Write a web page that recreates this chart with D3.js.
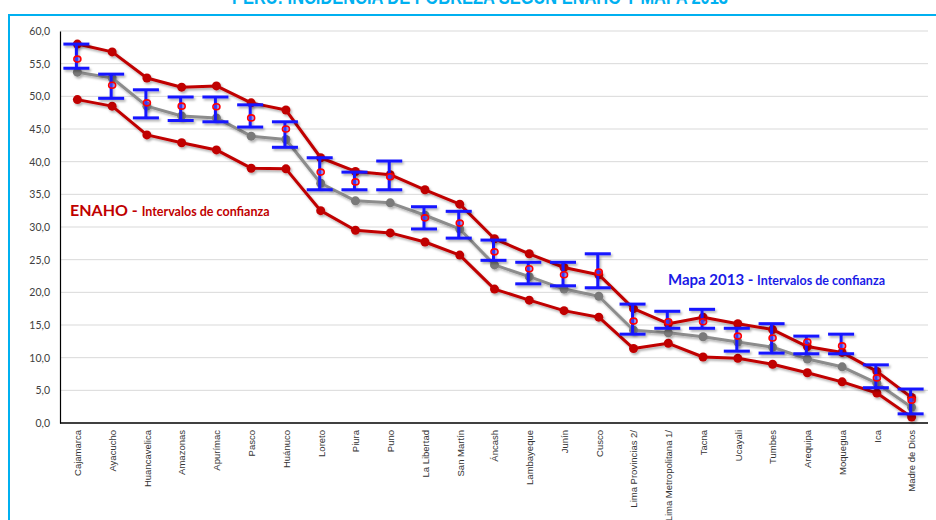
<!DOCTYPE html>
<html><head><meta charset="utf-8">
<script src="https://cdn.jsdelivr.net/npm/d3@7/dist/d3.min.js"></script>
<style>body{margin:0;background:#fff;} svg{display:block;}</style>
</head><body>
<svg id="chart" width="936" height="520"></svg>
<script>
const categories = ["Cajamarca","Ayacucho","Huancavelica","Amazonas","Apurímac","Pasco","Huánuco","Loreto","Piura","Puno","La Libertad","San Martín","Áncash","Lambayeque","Junín","Cusco","Lima Provincias 2/","Lima Metropolitana 1/","Tacna","Ucayali","Tumbes","Arequipa","Moquegua","Ica","Madre de Dios"];
const enahoUpper = [58.0,56.8,52.8,51.4,51.6,49.0,47.9,40.6,38.5,38.0,35.7,33.5,28.2,25.9,23.8,22.7,17.5,15.2,16.2,15.2,14.3,11.7,10.8,7.9,3.9];
const enahoEstimate = [53.7,52.8,48.5,47.0,46.7,43.9,43.4,36.7,34.0,33.7,31.8,29.7,24.2,22.4,20.5,19.4,14.2,13.8,13.2,12.4,11.6,9.8,8.6,6.1,2.4];
const enahoLower = [49.5,48.5,44.1,42.9,41.8,39.0,38.9,32.5,29.5,29.1,27.7,25.7,20.5,18.8,17.2,16.2,11.4,12.2,10.1,9.9,9.0,7.7,6.3,4.6,0.9];
const mapaUpper = [58.0,53.4,51.0,49.9,49.9,48.7,46.1,40.6,38.4,40.1,33.1,32.4,28.0,24.6,24.6,25.9,18.2,17.1,17.4,14.5,15.2,13.3,13.6,8.9,5.2];
const mapaEstimate = [55.7,51.7,49.0,48.5,48.4,46.7,45.0,38.4,36.9,37.7,31.4,30.6,26.2,23.6,22.7,23.1,15.6,15.5,15.5,13.3,13.0,12.4,11.8,6.9,3.5];
const mapaLower = [54.3,49.7,46.7,46.3,46.1,45.3,42.2,35.7,35.7,35.7,29.7,28.3,24.9,21.3,21.0,20.7,13.6,14.5,14.5,11.0,10.7,10.6,10.6,5.4,1.4];
const yTicks = [0,5,10,15,20,25,30,35,40,45,50,55,60];

const svg = d3.select("#chart");
const defs = svg.append("defs");
const f = defs.append("filter").attr("id","sh").attr("x","-20%").attr("y","-20%").attr("width","140%").attr("height","140%");
f.append("feDropShadow").attr("dx",1.5).attr("dy",2).attr("stdDeviation",1.2).attr("flood-color","#000").attr("flood-opacity",0.3);

// frame
svg.append("rect").attr("x",9).attr("y",15).attr("width",940).attr("height",520)
  .attr("fill","none").attr("stroke","#00b0f0").attr("stroke-width",2);
// title (cut off)
svg.append("text").attr("x",480).attr("y",4).attr("text-anchor","middle")
  .attr("font-family","Liberation Sans, Arial").attr("font-weight","bold").attr("font-size",20)
  .attr("fill","#00b0f0").attr("textLength",496).attr("lengthAdjust","spacingAndGlyphs")
  .text("PERÚ: INCIDENCIA DE POBREZA SEGÚN ENAHO Y MAPA 2013");

const x = d3.scalePoint().domain(categories).range([60,929]).padding(0.5);
const y = d3.scaleLinear().domain([0,60]).range([423,31]);

// gridlines
svg.append("g").selectAll("line").data(yTicks.filter(d=>d>0)).join("line")
  .attr("x1",60).attr("x2",928).attr("y1",d=>y(d)).attr("y2",d=>y(d))
  .attr("stroke","#d9d9d9").attr("stroke-width",1);

// y axis
const fmt = d => d3.format(".1f")(d).replace(".",",");
const yAxis = svg.append("g").attr("transform","translate(60,0)")
  .call(d3.axisLeft(y).tickValues(yTicks).tickFormat(fmt).tickSize(0).tickPadding(10));
yAxis.select(".domain").attr("stroke","#000").attr("stroke-width",1.2);
yAxis.selectAll("text").attr("font-family","Lato, Open Sans, sans-serif").attr("font-size",10.5).attr("fill","#404040");

// x axis
const xAxis = svg.append("g").attr("transform","translate(0,423)")
  .call(d3.axisBottom(x).tickSize(0).tickPadding(0));
xAxis.select(".domain").attr("stroke","#000").attr("stroke-width",1.5).attr("d","M60,0H928");
xAxis.selectAll("text").attr("font-family","Liberation Sans, Arial").attr("font-size",9.5).attr("fill","#333")
  .attr("text-anchor","end").attr("dy","0.35em").attr("transform","translate(0,7) rotate(-90)").attr("dx",0).attr("y",0).attr("x",0);

function series(vals, color, markerColor) {
  const g = svg.append("g").attr("filter","url(#sh)");
  const line = d3.line().x((d,i)=>x(categories[i])).y(d=>y(d));
  g.append("path").datum(vals).attr("d",line).attr("fill","none").attr("stroke",color).attr("stroke-width",3).attr("stroke-linejoin","round");
  g.selectAll("circle").data(vals).join("circle").attr("cx",(d,i)=>x(categories[i])).attr("cy",d=>y(d)).attr("r",4.5).attr("fill",markerColor);
}
series(enahoUpper,"#c00000","#c00000");
series(enahoLower,"#c00000","#c00000");
series(enahoEstimate,"#8c8c8c","#7a7a7a");

// Mapa error bars
const eb = svg.append("g").attr("filter","url(#sh)").attr("stroke","#1414ff").attr("stroke-width",3);
categories.forEach((c,i)=>{
  const cx = x(c)-1;
  eb.append("line").attr("x1",cx).attr("x2",cx).attr("y1",y(mapaUpper[i])).attr("y2",y(mapaLower[i]));
  eb.append("line").attr("x1",cx-13).attr("x2",cx+13).attr("y1",y(mapaUpper[i])).attr("y2",y(mapaUpper[i]));
  eb.append("line").attr("x1",cx-13).attr("x2",cx+13).attr("y1",y(mapaLower[i])).attr("y2",y(mapaLower[i]));
});
svg.append("g").selectAll("ellipse").data(mapaEstimate).join("ellipse")
  .attr("cx",(d,i)=>x(categories[i])).attr("cy",d=>y(d)).attr("rx",3.5).attr("ry",3)
  .attr("fill","#5a5aff").attr("fill-opacity",0.5).attr("stroke","#ff0000").attr("stroke-width",1.6);

// annotations
const t1 = svg.append("text").attr("x",70).attr("y",216).attr("font-family","Lato, Open Sans, sans-serif").attr("font-weight","bold").attr("fill","#c00000");
t1.append("tspan").attr("font-size",16).text("ENAHO - ");
t1.append("tspan").attr("font-size",12.5).text("Intervalos de confianza");
const t2 = svg.append("text").attr("x",668).attr("y",285).attr("font-family","Lato, Open Sans, sans-serif").attr("font-weight","bold").attr("fill","#1a1ae6");
t2.append("tspan").attr("font-size",15).text("Mapa 2013 - ");
t2.append("tspan").attr("font-size",12.5).text("Intervalos de confianza");
</script>
</body></html>
